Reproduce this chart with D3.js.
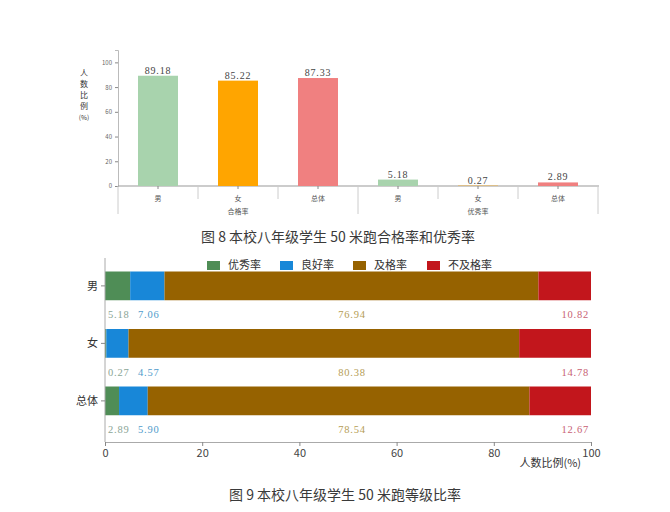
<!DOCTYPE html>
<html>
<head>
<meta charset="utf-8">
<script src="https://cdn.jsdelivr.net/npm/d3@7"></script>
<style>
  body { margin: 0; background: #fff; }
  svg { display: block; }
  text { font-family: "Noto Sans CJK SC", sans-serif; }
  .num { font-family: "Liberation Serif", serif; letter-spacing: 0.8px; }
</style>
</head>
<body>
<div id="chart"></div>
<script>
// data
var genders = ["男", "女", "总体"];
var groups = ["合格率", "优秀率"];
var passRate = [89.18, 85.22, 87.33];
var excellentRate = [5.18, 0.27, 2.89];
var levels = ["优秀率", "良好率", "及格率", "不及格率"];
var levelMale = [5.18, 7.06, 76.94, 10.82];
var levelFemale = [0.27, 4.57, 80.38, 14.78];
var levelTotal = [2.89, 5.90, 78.54, 12.67];
var yTicksTop = [0, 20, 40, 60, 80, 100];
var xTicksBottom = [0, 20, 40, 60, 80, 100];

var genderColors = ["#a8d3ad", "#ffa500", "#f08080"];
var levelColors = ["#4f8d56", "#1887d8", "#966200", "#c2161c"];
var labelColors = ["#8aa596", "#4f9ccb", "#b59d55", "#c85f75"];

var width = 670, height = 512;
var svg = d3.select("#chart").append("svg")
  .attr("width", width)
  .attr("height", height);

/*
  FIG 8 - grouped bars
*/
var rows = [];
groups.forEach(function(g, gi) {
  var vals = gi === 0 ? passRate : excellentRate;
  genders.forEach(function(s, si) {
    rows.push({group: g, gender: s, key: g + "-" + s, value: vals[si], color: genderColors[si]});
  });
});

var x1 = d3.scaleBand()
  .domain(rows.map(d => d.key))
  .range([118, 598])
  .paddingInner(0.5)
  .paddingOuter(0.25);

var y1 = d3.scaleLinear().domain([0, 110]).range([186, 50]);

var fig8 = svg.append("g");

fig8.append("g")
  .attr("transform", "translate(118,0)")
  .call(d3.axisLeft(y1).tickValues(yTicksTop).tickSize(3).tickPadding(3))
  .call(g => g.select(".domain").attr("stroke", "#bbb"))
  .call(g => g.selectAll(".tick line").attr("stroke", "#888"))
  .call(g => g.selectAll(".tick text").attr("font-size", 6).attr("fill", "#666")
    .attr("font-family", "Liberation Serif, serif"));

// extend y axis down to the group row
fig8.append("line")
  .attr("x1", 118).attr("x2", 118)
  .attr("y1", y1(0)).attr("y2", 214)
  .attr("stroke", "#ccc");

fig8.append("line")
  .attr("x1", 118).attr("x2", 599)
  .attr("y1", y1(0)).attr("y2", y1(0))
  .attr("stroke", "#999");

fig8.selectAll("rect.bar")
  .data(rows)
  .enter()
  .append("rect")
  .attr("class", "bar")
  .attr("x", d => x1(d.key))
  .attr("y", d => y1(d.value))
  .attr("width", x1.bandwidth())
  .attr("height", d => y1(0) - y1(d.value))
  .attr("fill", d => d.color);

fig8.selectAll("text.val")
  .data(rows)
  .enter()
  .append("text")
  .attr("class", "num")
  .attr("x", d => x1(d.key) + x1.bandwidth() / 2)
  .attr("y", d => y1(d.value) - 2)
  .attr("text-anchor", "middle")
  .attr("font-size", 10)
  .attr("fill", "#444")
  .text(d => d.value.toFixed(2));

// category ticks and labels
var step = x1.step();
fig8.selectAll("line.ctick")
  .data(rows)
  .enter()
  .append("line")
  .attr("x1", d => x1(d.key) + x1.bandwidth() / 2)
  .attr("x2", d => x1(d.key) + x1.bandwidth() / 2)
  .attr("y1", y1(0)).attr("y2", y1(0) + 3)
  .attr("stroke", "#888");

fig8.selectAll("text.cat")
  .data(rows)
  .enter()
  .append("text")
  .attr("x", d => x1(d.key) + x1.bandwidth() / 2)
  .attr("y", 201)
  .attr("text-anchor", "middle")
  .attr("font-size", 7)
  .attr("fill", "#555")
  .text(d => d.gender);

// separators between categories
fig8.selectAll("line.sep")
  .data(rows.slice(1))
  .enter()
  .append("line")
  .attr("x1", d => x1(d.key) - step / 4)
  .attr("x2", d => x1(d.key) - step / 4)
  .attr("y1", y1(0))
  .attr("y2", (d, i) => (i + 1) % 3 === 0 ? 214 : 199)
  .attr("stroke", "#ccc");

fig8.append("line")
  .attr("x1", 598).attr("x2", 598)
  .attr("y1", y1(0)).attr("y2", 214)
  .attr("stroke", "#ccc");

fig8.selectAll("text.grp")
  .data(groups)
  .enter()
  .append("text")
  .attr("x", (d, i) => x1(d + "-" + genders[1]) + x1.bandwidth() / 2)
  .attr("y", 214)
  .attr("text-anchor", "middle")
  .attr("font-size", 7)
  .attr("fill", "#555")
  .text(d => d);

// vertical y title
var yTitle = ["人", "数", "比", "例", "(%)"];
fig8.selectAll("text.ytitle")
  .data(yTitle)
  .enter()
  .append("text")
  .attr("x", 84)
  .attr("y", (d, i) => 76 + i * 11)
  .attr("text-anchor", "middle")
  .attr("font-size", d => d.length > 1 ? 6.5 : 8)
  .attr("fill", "#333")
  .text(d => d);

svg.append("text")
  .attr("x", 338).attr("y", 242)
  .attr("text-anchor", "middle")
  .attr("font-size", 14)
  .attr("fill", "#3a3a3a")
  .text("图 8  本校八年级学生 50 米跑合格率和优秀率");

/*
  FIG 9 - stacked bars
*/
var levelRows = [levelMale, levelFemale, levelTotal];

var x2 = d3.scaleLinear().domain([0, 100]).range([105, 591]);
var y2 = d3.scaleBand().domain(genders).range([269.5, 442]);
var barH = y2.bandwidth() / 2;

var fig9 = svg.append("g");

genders.forEach(function(s, si) {
  var vals = levelRows[si];
  var cum = 0;
  var segs = vals.map(function(v, li) {
    var seg = {level: levels[li], x0: cum, x1: cum + v, value: v, li: li};
    cum += v;
    return seg;
  });

  fig9.selectAll("rect.s" + si)
    .data(segs)
    .enter()
    .append("rect")
    .attr("x", d => x2(d.x0))
    .attr("y", y2(s) + 2)
    .attr("width", d => x2(d.x1) - x2(d.x0))
    .attr("height", barH)
    .attr("fill", d => levelColors[d.li]);

  // value labels under bars
  var ly = y2(s) + y2.bandwidth() * 0.78 + 4;
  fig9.selectAll("text.l" + si)
    .data(segs)
    .enter()
    .append("text")
    .attr("class", "num")
    .attr("x", function(d) {
      if (d.li === 0) return x2(0) + 3;
      if (d.li === 1) return x2(0) + 33;
      if (d.li === 2) return (x2.range()[0] + x2.range()[1]) / 2 + 4;
      return x2(100) - 2;
    })
    .attr("y", ly)
    .attr("text-anchor", d => d.li === 2 ? "middle" : (d.li === 3 ? "end" : "start"))
    .attr("font-size", 10.5)
    .attr("fill", d => labelColors[d.li])
    .text(d => d.value.toFixed(2));
});

// y axis
fig9.append("line")
  .attr("x1", x2(0)).attr("x2", x2(0))
  .attr("y1", 258).attr("y2", 442)
  .attr("stroke", "#aaa");

fig9.selectAll("line.ytk")
  .data(genders)
  .enter()
  .append("line")
  .attr("x1", x2(0) - 4).attr("x2", x2(0))
  .attr("y1", d => y2(d) + 2 + barH / 2)
  .attr("y2", d => y2(d) + 2 + barH / 2)
  .attr("stroke", "#888");

fig9.selectAll("text.ylab")
  .data(genders)
  .enter()
  .append("text")
  .attr("x", x2(0) - 7)
  .attr("y", d => y2(d) + 2 + barH / 2)
  .attr("dy", "0.35em")
  .attr("text-anchor", "end")
  .attr("font-size", 11)
  .attr("fill", "#333")
  .text(d => d);

// x axis
fig9.append("g")
  .attr("transform", "translate(0,442)")
  .call(d3.axisBottom(x2).tickValues(xTicksBottom).tickSize(4).tickPadding(3))
  .call(g => g.select(".domain").attr("stroke", "#aaa"))
  .call(g => g.selectAll(".tick line").attr("stroke", "#888"))
  .call(g => g.selectAll(".tick text").attr("font-size", 11).attr("fill", "#444")
    .attr("font-family", "Liberation Serif, serif"));

fig9.append("text")
  .attr("x", 581).attr("y", 467)
  .attr("text-anchor", "end")
  .attr("font-size", 11)
  .attr("fill", "#333")
  .text("人数比例(%)");

// legend
var legendX = [207, 280, 353, 427];
var legend = fig9.selectAll("g.leg")
  .data(levels)
  .enter()
  .append("g")
  .attr("transform", (d, i) => "translate(" + legendX[i] + ",261)");

legend.append("rect")
  .attr("width", 13).attr("height", 9)
  .attr("fill", (d, i) => levelColors[i]);

legend.append("text")
  .attr("x", 21).attr("y", 4.5)
  .attr("dy", "0.35em")
  .attr("font-size", 11)
  .attr("fill", "#333")
  .text(d => d);

svg.append("text")
  .attr("x", 345).attr("y", 500)
  .attr("text-anchor", "middle")
  .attr("font-size", 14)
  .attr("fill", "#3a3a3a")
  .text("图 9  本校八年级学生 50 米跑等级比率");
</script>
</body>
</html>
